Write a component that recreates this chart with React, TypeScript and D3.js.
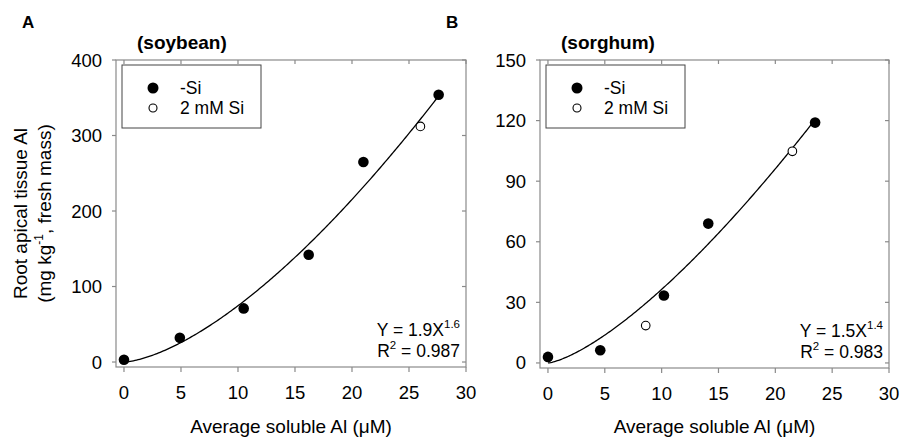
import React from "react";
import * as d3 from "d3";

// ---- Data ----
const xTickValues = [0, 5, 10, 15, 20, 25, 30];

const soyYTicks = [0, 100, 200, 300, 400];
const soyNoSiX = [0, 4.9, 10.5, 16.2, 21.0, 27.6];
const soyNoSiY = [3, 32, 71, 142, 265, 354];
const soySiX = [26.0];
const soySiY = [312];
const soyFit = { a: 2.2, b: 1.53, xMax: 27.6 };
const soyEq = { coef: "1.9", exp: "1.6", r2: "0.987" };

const sorYTicks = [0, 30, 60, 90, 120, 150];
const sorNoSiX = [0, 4.6, 10.2, 14.1, 23.5];
const sorNoSiY = [3, 6.3, 33.4, 69, 119];
const sorSiX = [8.6, 21.5];
const sorSiY = [18.5, 104.8];
const sorFit = { a: 1.45, b: 1.4, xMax: 23.5 };
const sorEq = { coef: "1.5", exp: "1.4", r2: "0.983" };

const FONT = "'Liberation Sans', Arial, Helvetica, sans-serif";
const FRAME = "#8a8a8a";

type PanelProps = {
  letter: string;
  title: string;
  left: number;
  right: number;
  top: number;
  bottom: number;
  yMin: number;
  yMax: number;
  yTicks: number[];
  noSiX: number[];
  noSiY: number[];
  siX: number[];
  siY: number[];
  fit: { a: number; b: number; xMax: number };
  eq: { coef: string; exp: string; r2: string };
  yTitle: boolean;
};

function Panel(p: PanelProps) {
  const x = d3.scaleLinear().domain([-0.7, 30]).range([p.left, p.right]);
  const y = d3.scaleLinear().domain([p.yMin, p.yMax]).range([p.bottom, p.top]);
  const curvePts = d3.range(0, 201).map((i) => {
    const xv = (p.fit.xMax * i) / 200;
    return [xv, p.fit.a * Math.pow(xv, p.fit.b)] as [number, number];
  });
  const line = d3
    .line<[number, number]>()
    .x((d) => x(d[0]))
    .y((d) => y(d[1]));
  const cx = (p.left + p.right) / 2;
  const cy = (p.top + p.bottom) / 2;
  const noSi = p.noSiX.map((v, i) => [v, p.noSiY[i]]);
  const si = p.siX.map((v, i) => [v, p.siY[i]]);
  const legX = p.left + 6;
  const legY = p.top + 5;
  return (
    <g fontFamily={FONT}>
      <text x={p.left - 94} y={28} fontSize={17} fontWeight="bold">
        {p.letter}
      </text>
      <text x={p.left + 21} y={49} fontSize={19} fontWeight="bold">
        {p.title}
      </text>
      {/* frame */}
      <rect
        x={p.left}
        y={p.top}
        width={p.right - p.left}
        height={p.bottom - p.top}
        fill="none"
        stroke={FRAME}
        strokeWidth={1.2}
      />
      {/* x ticks bottom (outward) and top (inward) */}
      {xTickValues.map((t) => (
        <g key={"x" + t}>
          <line x1={x(t)} x2={x(t)} y1={p.bottom} y2={p.bottom + 5} stroke={FRAME} strokeWidth={1.2} />
          <line x1={x(t)} x2={x(t)} y1={p.top} y2={p.top + 4} stroke={FRAME} strokeWidth={1.2} />
          <text x={x(t)} y={p.bottom + 32} fontSize={18.5} textAnchor="middle">
            {t}
          </text>
        </g>
      ))}
      {/* y ticks left (outward) and right (inward) */}
      {p.yTicks.map((t) => (
        <g key={"y" + t}>
          <line x1={p.left - 4} x2={p.left} y1={y(t)} y2={y(t)} stroke={FRAME} strokeWidth={1.2} />
          <line x1={p.right - 4} x2={p.right} y1={y(t)} y2={y(t)} stroke={FRAME} strokeWidth={1.2} />
          <text x={p.left - 14} y={y(t) + 6.5} fontSize={18.5} textAnchor="end">
            {t}
          </text>
        </g>
      ))}
      {/* fitted curve */}
      <path d={line(curvePts) || ""} fill="none" stroke="#000" strokeWidth={1.3} />
      {/* points */}
      {noSi.map((d, i) => (
        <circle key={"n" + i} cx={x(d[0])} cy={y(d[1])} r={5.3} fill="#000" />
      ))}
      {si.map((d, i) => (
        <circle key={"s" + i} cx={x(d[0])} cy={y(d[1])} r={4.3} fill="#fff" stroke="#000" strokeWidth={1.1} />
      ))}
      {/* legend */}
      <rect x={legX} y={legY} width={139} height={63} fill="#fff" stroke="#444" strokeWidth={1} />
      <circle cx={legX + 31} cy={legY + 23} r={5.5} fill="#000" />
      <text x={legX + 58} y={legY + 29} fontSize={17.5}>
        -Si
      </text>
      <circle cx={legX + 31} cy={legY + 43} r={4} fill="#fff" stroke="#000" strokeWidth={1.1} />
      <text x={legX + 58} y={legY + 49} fontSize={17.5}>
        2 mM Si
      </text>
      {/* equation */}
      <text x={p.right - 6} y={p.bottom - 31} fontSize={17.5} textAnchor="end">
        <tspan>{"Y = " + p.eq.coef + "X"}</tspan>
        <tspan dy={-8} fontSize={11.5}>
          {p.eq.exp}
        </tspan>
      </text>
      <text x={p.right - 6} y={p.bottom - 10} fontSize={17.5} textAnchor="end">
        <tspan>R</tspan>
        <tspan dy={-8} fontSize={11.5}>
          2
        </tspan>
        <tspan dy={8}>{" = " + p.eq.r2}</tspan>
      </text>
      {/* x title */}
      <text x={cx} y={433} fontSize={19} textAnchor="middle">
        Average soluble Al (μM)
      </text>
      {p.yTitle && (
        <g>
          <text transform={`translate(27,${cy}) rotate(-90)`} fontSize={19} textAnchor="middle">
            Root apical tissue Al
          </text>
          <text transform={`translate(51,${cy}) rotate(-90)`} fontSize={19} textAnchor="middle">
            <tspan>(mg kg</tspan>
            <tspan dy={-8} fontSize={12}>
              -1
            </tspan>
            <tspan dy={8}>, fresh mass)</tspan>
          </text>
        </g>
      )}
    </g>
  );
}

export default function App() {
  return (
    <svg
      width={900}
      height={442}
      style={{ position: "absolute", left: 0, top: 0, background: "#fff" }}
    >
      <rect width={900} height={442} fill="#fff" />
      <Panel
        letter="A"
        title="(soybean)"
        left={116}
        right={466}
        top={60}
        bottom={367}
        yMin={-6.6}
        yMax={400}
        yTicks={soyYTicks}
        noSiX={soyNoSiX}
        noSiY={soyNoSiY}
        siX={soySiX}
        siY={soySiY}
        fit={soyFit}
        eq={soyEq}
        yTitle={true}
      />
      <Panel
        letter="B"
        title="(sorghum)"
        left={540}
        right={889}
        top={60}
        bottom={368}
        yMin={-2.5}
        yMax={150}
        yTicks={sorYTicks}
        noSiX={sorNoSiX}
        noSiY={sorNoSiY}
        siX={sorSiX}
        siY={sorSiY}
        fit={sorFit}
        eq={sorEq}
        yTitle={false}
      />
    </svg>
  );
}
